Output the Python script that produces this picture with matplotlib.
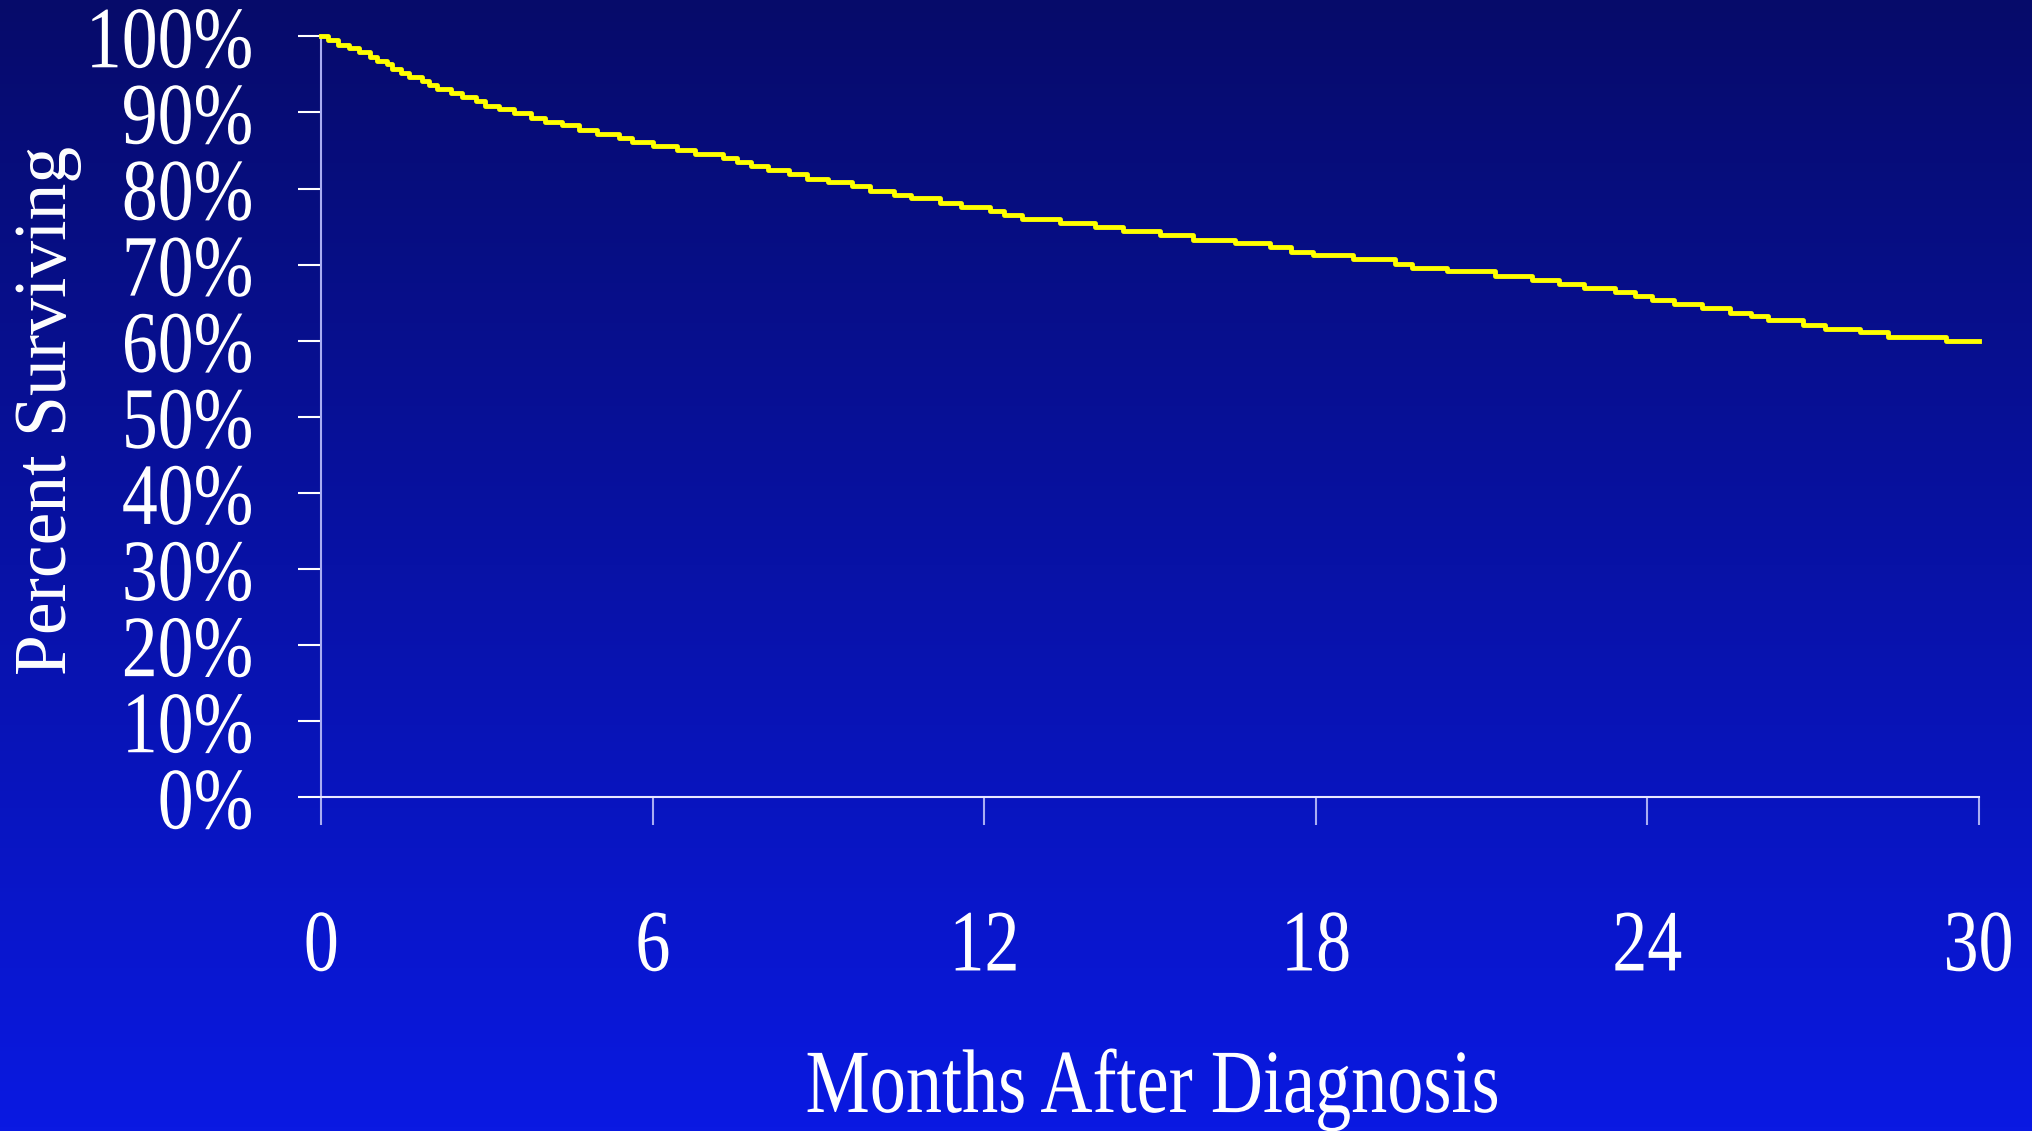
import numpy as np
import matplotlib
matplotlib.use('Agg')
import matplotlib.pyplot as plt
import matplotlib.patheffects as pe
from matplotlib.transforms import Affine2D
from matplotlib.colors import LinearSegmentedColormap

# Survival curve: month of each drop and percent after it
event_months = [0.12, 0.30, 0.50, 0.68, 0.88, 1.01, 1.19, 1.27, 1.44, 1.58,
                1.82, 1.95, 2.09, 2.34, 2.54, 2.79, 2.97, 3.22, 3.48, 3.79,
                4.05, 4.36, 4.67, 4.99, 5.38, 5.63, 6.01, 6.44, 6.76, 7.27,
                7.53, 7.78, 8.09, 8.47, 8.79, 9.17, 9.61, 9.93, 10.37, 10.68,
                11.20, 11.58, 12.10, 12.36, 12.68, 13.37, 14.00, 14.51, 15.18, 15.78,
                16.54, 17.17, 17.55, 17.95, 18.68, 19.43, 19.74, 20.37, 21.24, 21.91,
                22.40, 22.85, 23.42, 23.79, 24.09, 24.49, 24.99, 25.50, 25.88, 26.19,
                26.83, 27.22, 27.85, 28.36, 29.42]
surviving = [99.5, 98.9, 98.4, 97.9, 97.3, 96.8, 96.3, 95.7, 95.2, 94.7,
             94.1, 93.6, 93.1, 92.5, 92.0, 91.5, 90.9, 90.4, 89.9, 89.3,
             88.8, 88.3, 87.7, 87.2, 86.7, 86.1, 85.6, 85.1, 84.5, 84.0,
             83.5, 82.9, 82.4, 81.9, 81.3, 80.8, 80.3, 79.7, 79.2, 78.7,
             78.1, 77.6, 77.1, 76.5, 76.0, 75.5, 74.9, 74.4, 73.9, 73.3,
             72.8, 72.3, 71.7, 71.2, 70.7, 70.1, 69.6, 69.1, 68.5, 68.0,
             67.5, 66.9, 66.4, 65.9, 65.3, 64.8, 64.3, 63.7, 63.2, 62.7,
             62.1, 61.6, 61.1, 60.5, 60.0]
start_month, end_month = 0, 30
start_pct = 100

x_ticks = [0, 6, 12, 18, 24, 30]
y_ticks = [0, 10, 20, 30, 40, 50, 60, 70, 80, 90, 100]
y_labels = ['%d%%' % v for v in y_ticks]

serif = 'Liberation Serif'
lavender = '#a9adf2'


class Squeeze(pe.AbstractPathEffect):
    # narrows the glyphs horizontally, like the condensed slide font
    def __init__(self, sx, align='center'):
        super().__init__()
        self.sx = sx
        self.align = align

    def draw_path(self, renderer, gc, tpath, affine, rgbFace=None):
        ext = tpath.get_extents()
        cx = ext.x1 if self.align == 'right' else (ext.x0 + ext.x1) / 2
        t = Affine2D().translate(-cx, 0).scale(self.sx, 1).translate(cx, 0)
        renderer.draw_path(gc, tpath, t + affine, rgbFace)


fig = plt.figure(figsize=(20.33, 11.31), dpi=100)

# background gradient
bg = fig.add_axes([0, 0, 1, 1], zorder=-10)
grad = np.linspace(0, 1, 256).reshape(-1, 1)
cmap = LinearSegmentedColormap.from_list('slide', ['#060b6a', '#0a19e2'])
bg.imshow(grad, aspect='auto', cmap=cmap, extent=[0, 1, 0, 1])
bg.axis('off')

ax = fig.add_axes([0.1581, 0.2950, 0.8151, 0.6729])
ax.patch.set_alpha(0)

months = [start_month] + event_months + [end_month]
pct = [start_pct] + surviving + [surviving[-1]]
ax.step(months, pct, where='post', color='#ffff00', lw=3.5, clip_on=False, zorder=5)

ax.set_xlim(0, 30)
ax.set_ylim(0, 100)
for s in ['top', 'right']:
    ax.spines[s].set_visible(False)
ax.spines['left'].set_color(lavender)
ax.spines['left'].set_linewidth(1.5)
ax.spines['bottom'].set_color('#e8e8ff')
ax.spines['bottom'].set_linewidth(1.5)

ax.set_yticks(y_ticks, y_labels)
ax.set_xticks(x_ticks, [str(v) for v in x_ticks])
ax.tick_params(axis='y', direction='out', length=16.5, width=1.5, color='white',
               pad=32, labelsize=63, labelcolor='white')
ax.tick_params(axis='x', direction='out', length=20, width=1.5, color=lavender,
               pad=60, labelsize=63, labelcolor='white')
for lab in ax.get_yticklabels():
    lab.set_fontfamily(serif)
    lab.set_path_effects([Squeeze(0.82, 'right')])
for lab in ax.get_xticklabels():
    lab.set_fontfamily(serif)
    lab.set_path_effects([Squeeze(0.8)])

fig.text(0.567, 0.0168, 'Months After Diagnosis', ha='center', va='baseline',
         color='white', fontsize=65, family=serif, path_effects=[Squeeze(0.8)])
fig.text(0.0235, 0.6375, 'Percent Surviving', ha='center', va='center', rotation=90,
         color='white', fontsize=53, family=serif)

fig.savefig('out.png', dpi=100)
